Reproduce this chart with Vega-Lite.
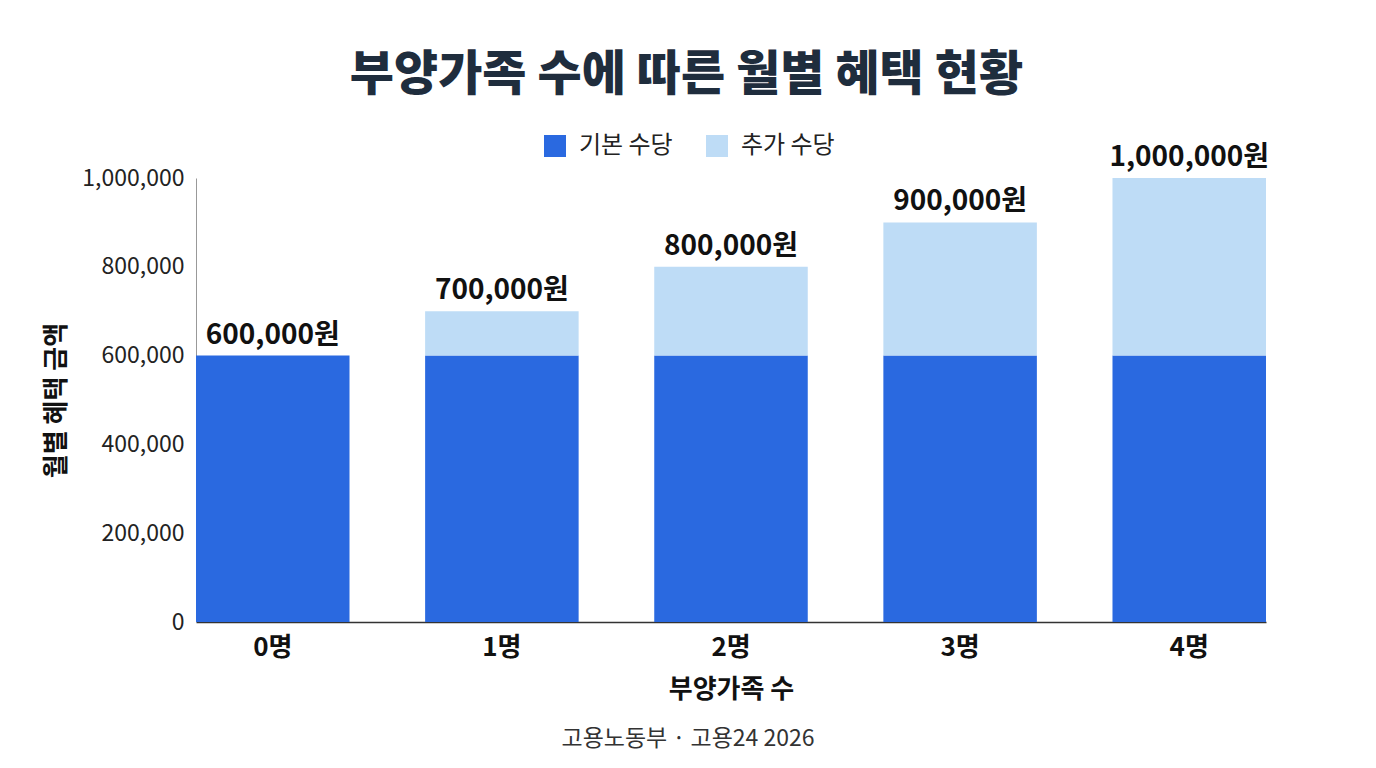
{
  "$schema": "https://vega.github.io/schema/vega-lite/v6.json",
  "background": "white",
  "padding": {"left": 43, "top": 52, "right": 100, "bottom": 10},
  "config": {
    "font": "Noto Sans CJK KR",
    "view": {"stroke": null}
  },
  "title": {
    "text": "부양가족 수에 따른 월별 혜택 현황",
    "fontSize": 48,
    "fontWeight": 900,
    "color": "#1f2d3d",
    "anchor": "middle",
    "dx": 30,
    "offset": 34
  },
  "datasets": {
    "bars": [
      {"group": "0명", "type": "기본 수당", "amount": 600000},
      {"group": "0명", "type": "추가 수당", "amount": 0},
      {"group": "1명", "type": "기본 수당", "amount": 600000},
      {"group": "1명", "type": "추가 수당", "amount": 100000},
      {"group": "2명", "type": "기본 수당", "amount": 600000},
      {"group": "2명", "type": "추가 수당", "amount": 200000},
      {"group": "3명", "type": "기본 수당", "amount": 600000},
      {"group": "3명", "type": "추가 수당", "amount": 300000},
      {"group": "4명", "type": "기본 수당", "amount": 600000},
      {"group": "4명", "type": "추가 수당", "amount": 400000}
    ],
    "totals": [
      {"group": "0명", "total": 600000, "label": "600,000원"},
      {"group": "1명", "total": 700000, "label": "700,000원"},
      {"group": "2명", "total": 800000, "label": "800,000원"},
      {"group": "3명", "total": 900000, "label": "900,000원"},
      {"group": "4명", "total": 1000000, "label": "1,000,000원"}
    ]
  },
  "vconcat": [
    {
      "width": 1070,
      "height": 444,
      "title": {
        "text": "고용노동부 · 고용24 2026",
        "orient": "bottom",
        "fontSize": 23,
        "fontWeight": "normal",
        "color": "#333333",
        "anchor": "middle",
        "frame": "group",
        "dx": -43,
        "offset": 26
      },
      "layer": [
        {
          "data": {"name": "bars"},
          "mark": {"type": "bar"},
          "encoding": {
            "x": {
              "field": "group",
              "type": "nominal",
              "scale": {"domain": ["0명", "1명", "2명", "3명", "4명"], "paddingInner": 0.33, "paddingOuter": 0},
              "axis": {
                "title": "부양가족 수",
                "titleFontSize": 26,
                "titleFontWeight": "bold",
                "titleColor": "#111111",
                "titlePadding": 16,
                "labelFontSize": 26,
                "labelFontWeight": "bold",
                "labelColor": "#111111",
                "labelAngle": 0,
                "labelPadding": 12,
                "ticks": false,
                "domainColor": "#333333",
                "domainWidth": 1.5
              }
            },
            "y": {
              "field": "amount",
              "type": "quantitative",
              "stack": "zero",
              "scale": {"domain": [0, 1000000]},
              "axis": {
                "title": "월별 혜택 금액",
                "titleFontSize": 26,
                "titleFontWeight": "bold",
                "titleColor": "#111111",
                "titlePadding": 12,
                "values": [0, 200000, 400000, 600000, 800000, 1000000],
                "format": ",d",
                "labelFontSize": 23,
                "labelColor": "#222222",
                "labelPadding": 12,
                "ticks": false,
                "grid": false,
                "domainColor": "#999999"
              }
            },
            "color": {
              "field": "type",
              "type": "nominal",
              "scale": {"domain": ["기본 수당", "추가 수당"], "range": ["#2a69e0", "#bedcf6"]},
              "legend": {
                "title": null,
                "orient": "none",
                "direction": "horizontal",
                "legendX": 347,
                "legendY": -44,
                "symbolType": "square",
                "symbolSize": 484,
                "symbolStrokeWidth": 0,
                "labelFontSize": 24,
                "labelColor": "#222222",
                "labelOffset": 12,
                "columnPadding": 32
              }
            },
            "order": {"field": "type", "sort": "ascending"}
          }
        },
        {
          "data": {"name": "totals"},
          "mark": {"type": "text", "baseline": "bottom", "dy": -6, "fontSize": 28, "fontWeight": "bold", "color": "#111111"},
          "encoding": {
            "x": {"field": "group", "type": "nominal"},
            "y": {"field": "total", "type": "quantitative"},
            "text": {"field": "label", "type": "nominal"}
          }
        }
      ]
    }
  ]
}
